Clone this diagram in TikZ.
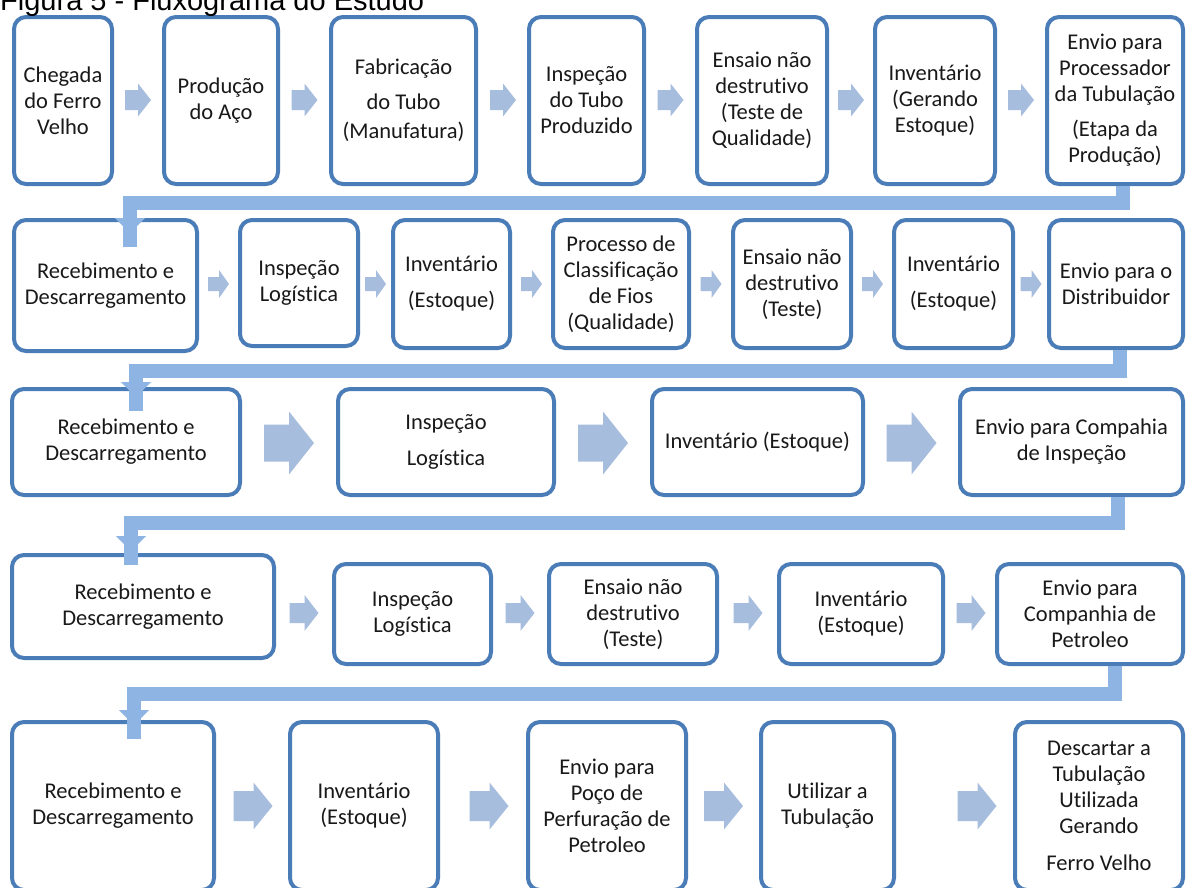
\documentclass[tikz,border=0pt]{standalone}
\usepackage{fontspec}
\setmainfont{Carlito}[Ligatures=NoCommon]
\newfontfamily\titlefont{Liberation Sans}
\definecolor{boxblue}{RGB}{74,124,184}
\definecolor{arrowblue}{RGB}{167,189,221}
\definecolor{connblue}{RGB}{141,180,226}
\definecolor{txt}{RGB}{25,25,25}
\tikzset{
  box/.style={draw=boxblue, line width=4pt, rounded corners=12pt, fill=white,
    align=center, inner sep=0pt, text=txt, font=\fontsize{22.5}{26}\selectfont},
  conn/.style={draw=connblue, line width=14pt, line cap=butt, line join=miter},
  sarrow/.style={fill=arrowblue}
}
% box: name, x1, y1, x2, y2, text
\newcommand\bx[6]{\node[box, minimum width={(#4-#2-4)*1pt}, minimum height={(#5-#3-4)*1pt}] (#1) at ({(#2+#4)/2},{(#3+#5)/2}) {#6};}
% block arrow: cx, cy, length, head length, head height, shaft height
\newcommand\barrow[6]{\fill[sarrow] ({#1-#3/2},{#2-#6/2}) -- ++({#3-#4},0) -- ++(0,{-(#5-#6)/2}) -- ++(#4,{#5/2}) -- ++({-#4},{#5/2}) -- ++(0,{-(#5-#6)/2}) -- ++({-(#3-#4)},0) -- cycle;}
% elbow connector: start node, xshift, bar y, left x, tip y, name
\newcommand\elbow[6]{%
  \coordinate (#6bar) at (#4,#3);
  \coordinate (#6tip) at (#4,#5);
  \draw[conn] ([xshift=#2pt]#1.south) |- (#6bar) -- ([yshift=-14pt]#6tip);
  \fill[connblue] ([shift={(-15pt,15pt)}]#6tip) -- ([shift={(15pt,15pt)}]#6tip) -- (#6tip) -- cycle;}
\begin{document}
\begin{tikzpicture}[x=1pt,y=-1pt]
\useasboundingbox (0,0) rectangle (1187,887);
\clip (0,0) rectangle (1187,887);
\fill[white] (0,0) rectangle (1187,887);

% Row 1
\bx{r1a}{12}{15}{114}{186}{Chegada\\do Ferro\\Velho}
\bx{r1b}{162}{15}{280}{186}{Produção\\do Aço}
\bx{r1c}{329}{15}{478}{186}{Fabricação\\[9pt]do Tubo\\[3pt](Manufatura)}
\bx{r1d}{527}{15}{646}{186}{Inspeção\\do Tubo\\Produzido}
\bx{r1e}{695}{15}{829}{186}{Ensaio não\\destrutivo\\(Teste de\\Qualidade)}
\bx{r1f}{873}{15}{997}{186}{Inventário\\(Gerando\\Estoque)}
\bx{r1g}{1045}{15}{1185}{186}{Envio para\\Processador\\da Tubulação\\[9pt](Etapa da\\Produção)}

% Row 2
\bx{r2a}{12}{218}{199}{353}{Recebimento e\\Descarregamento}
\bx{r2b}{238}{218}{360}{348}{Inspeção\\Logística}
\bx{r2c}{391}{218}{512}{350}{Inventário\\[10pt](Estoque)}
\bx{r2d}{551}{218}{691}{350}{Processo de\\Classificação\\de Fios\\(Qualidade)}
\bx{r2e}{731}{218}{853}{350}{Ensaio não\\destrutivo\\(Teste)}
\bx{r2f}{892}{218}{1015}{350}{Inventário\\[10pt](Estoque)}
\bx{r2g}{1047}{218}{1185}{350}{Envio para o\\Distribuidor}

% Row 3
\bx{r3a}{10}{387}{242}{497}{Recebimento e\\Descarregamento}
\bx{r3b}{336}{387}{556}{497}{Inspeção\\[10pt]Logística}
\bx{r3c}{650}{387}{865}{497}{Inventário (Estoque)}
\bx{r3d}{958}{387}{1185}{497}{Envio para Compahia\\de Inspeção}

% Row 4
\bx{r4a}{10}{553}{276}{660}{Recebimento e\\Descarregamento}
\bx{r4b}{332}{562}{493}{666}{Inspeção\\Logística}
\bx{r4c}{547}{562}{719}{666}{Ensaio não\\destrutivo\\(Teste)}
\bx{r4d}{777}{562}{945}{666}{Inventário\\(Estoque)}
\bx{r4e}{995}{562}{1185}{666}{Envio para\\Companhia de\\Petroleo}

% Row 5
\bx{r5a}{10}{720}{216}{892}{Recebimento e\\Descarregamento}
\bx{r5b}{288}{720}{440}{892}{Inventário\\(Estoque)}
\bx{r5c}{526}{720}{688}{892}{Envio para\\Poço de\\Perfuração de\\Petroleo}
\bx{r5d}{759}{720}{896}{892}{Utilizar a\\Tubulação}
\bx{r5e}{1013}{720}{1185}{892}{Descartar a\\Tubulação\\Utilizada\\Gerando\\[11pt]Ferro Velho}

% block arrows row 1
\foreach \cx in {138,304.5,503,670.5,851,1021} {\barrow{\cx}{100}{26}{13}{33}{20}}
% row 2
\foreach \cx in {218.5,375.5,531.5,711,872.5,1031} {\barrow{\cx}{284}{21}{10}{28}{14}}
% row 3
\foreach \cx in {289,603,911.5} {\barrow{\cx}{443}{50}{25}{63}{37}}
% row 4
\foreach \cx in {304,520,748,971} {\barrow{\cx}{613}{29}{14}{36}{20}}
% row 5
\foreach \cx in {253,489,723.5,977} {\barrow{\cx}{806}{39}{19}{47}{30}}

% elbow connectors
\elbow{r1g}{8}{203}{130}{233}{k1}
\elbow{r2g}{4}{371}{136}{397}{k2}
\elbow{r3d}{46}{523}{131}{551}{k3}
\elbow{r4e}{25}{694}{134}{725}{k4}

% title (cut at top, as in the reference)
\node[anchor=base west, inner sep=0pt, font=\titlefont\fontsize{29}{30}\selectfont] (title) at (0,10) {Figura 5 - Fluxograma do Estudo};
\end{tikzpicture}
\end{document}
